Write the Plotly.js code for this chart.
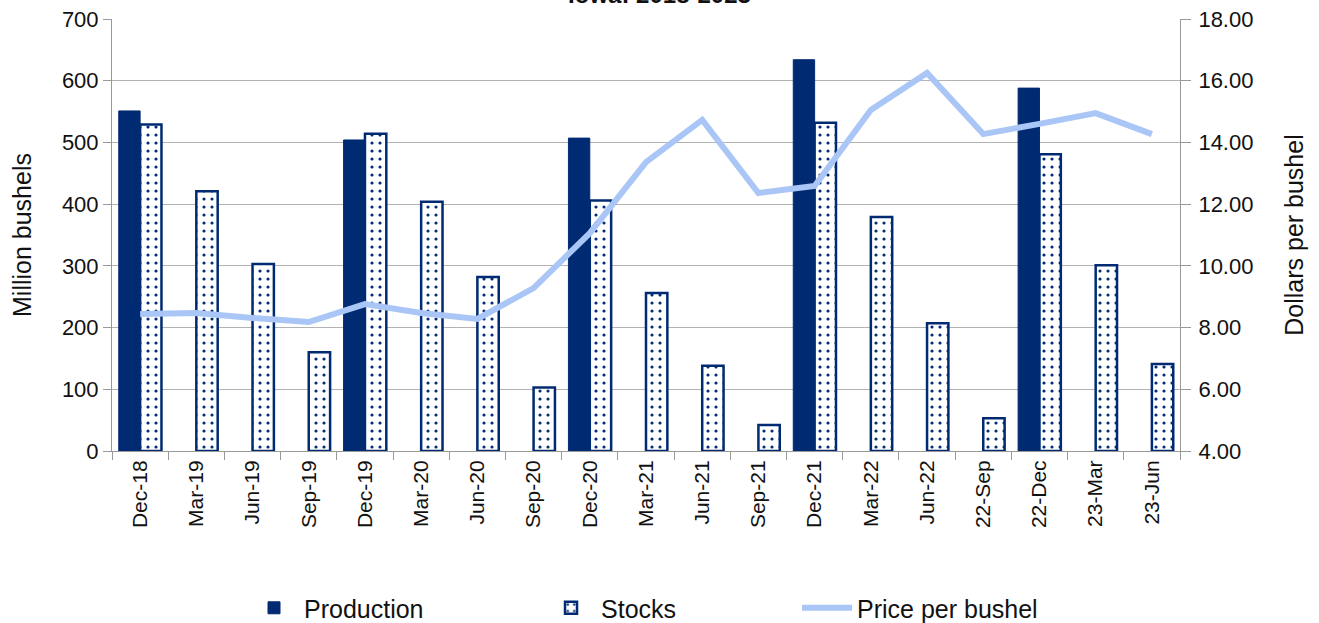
<!DOCTYPE html>
<html>
<head>
<meta charset="utf-8">
<script src="https://cdn.plot.ly/plotly-3.0.1.min.js"></script>
<style>html,body{margin:0;padding:0;background:#fff;}#chart{width:1319px;height:623px;}</style>
</head>
<body>
<div id="chart"></div>
<script>
const categories = ["Dec-18","Mar-19","Jun-19","Sep-19","Dec-19","Mar-20","Jun-20","Sep-20","Dec-20","Mar-21","Jun-21","Sep-21","Dec-21","Mar-22","Jun-22","22-Sep","22-Dec","23-Mar","23-Jun"];
const production = [551,null,null,null,504,null,null,null,507,null,null,null,634,null,null,null,588,null,null];
const stocks = [529,421,303,160,514,404,282,103,406,256,138,42,532,379,207,53,481,301,141];
const price = [8.44,8.47,8.31,8.18,8.76,8.47,8.28,9.28,11.06,13.36,14.73,12.36,12.59,15.05,16.25,14.27,14.60,14.95,14.27];

const navy = "#002b73";
const FONT = "Liberation Sans, Arial, sans-serif";

const traces = [
  {type:"bar", name:"Production", x:categories, y:production, marker:{color:navy, line:{color:navy, width:1}}, legend:"legend"},
  {type:"bar", name:"Stocks", x:categories, y:stocks,
   marker:{color:"#ffffff", line:{color:navy, width:2.5}, pattern:{shape:".", fgcolor:navy, bgcolor:"#ffffff", size:8, solidity:0.12}}, legend:"legend2"},
  {type:"scatter", mode:"lines", name:"Price per bushel", x:categories, y:price, yaxis:"y2",
   line:{color:"#a9c6f6", width:6}, legend:"legend3"}
];

const legBase = {orientation:"h", yref:"container", yanchor:"middle", y:0.024, xanchor:"left", font:{family:FONT, size:25, color:"#111"}, bgcolor:"rgba(0,0,0,0)", itemwidth:50};

const layout = {
  width:1319, height:623,
  margin:{l:112, r:139, t:19, b:172, autoexpand:false},
  paper_bgcolor:"#fff", plot_bgcolor:"#fff",
  font:{family:FONT, size:21, color:"#111"},
  title:{text:"<b>Iowa: 2018-2023</b>", font:{family:FONT, size:24, color:"#111"}, x:0.5, xref:"container", y:0.995, yref:"container", yanchor:"bottom"},
  barmode:"group", bargap:0.24, bargroupgap:0,
  xaxis:{type:"category", tickangle:-90, ticks:"outside", tickson:"boundaries", ticklen:8, tickcolor:"#999",
         showline:true, linecolor:"#999", tickfont:{family:FONT, size:21, color:"#111"}, showgrid:false},
  yaxis:{range:[0,700], dtick:100, ticks:"outside", ticklen:8, tickcolor:"#999", showline:true, linecolor:"#999",
         gridcolor:"#b3b3b3", zeroline:false, tickfont:{family:FONT, size:22, color:"#111"}},
  yaxis2:{range:[4,18], dtick:2, tickformat:".2f", overlaying:"y", side:"right", ticks:"outside", ticklen:10, tickcolor:"#999",
          ticklabelstandoff:3,
          showline:true, linecolor:"#999", showgrid:false, zeroline:false, tickfont:{family:FONT, size:22, color:"#111"},
          title:{text:"Dollars per bushel", font:{family:FONT, size:25, color:"#111"}, standoff:33}},
  annotations:[{text:"Million bushels", textangle:-90, xref:"paper", yref:"paper", x:(22-112)/1068, y:0.5,
                xanchor:"center", yanchor:"middle", showarrow:false, font:{family:FONT, size:25, color:"#111"}}],
  showlegend:true,
  legend:Object.assign({}, legBase, {x:0.1236}),
  legend2:Object.assign({}, legBase, {x:0.4017}),
  legend3:Object.assign({}, legBase, {x:0.6414})
};

Plotly.newPlot("chart", traces, layout, {displayModeBar:false, responsive:false});
</script>
</body>
</html>
